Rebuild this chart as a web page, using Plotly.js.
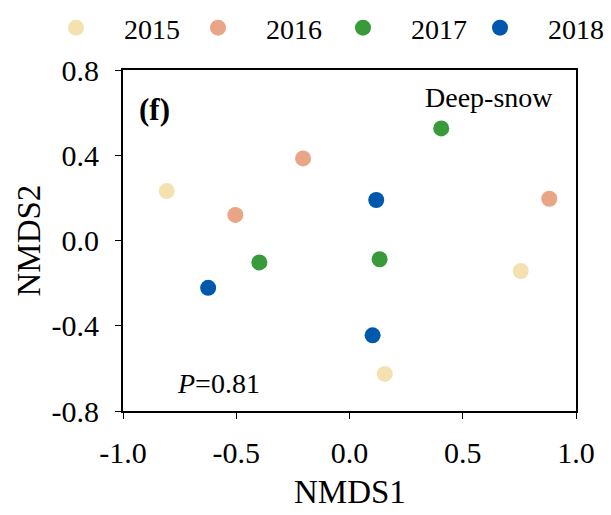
<!DOCTYPE html>
<html>
<head>
<meta charset="utf-8">
<script src="https://cdn.plot.ly/plotly-3.0.1.min.js"></script>
<style>html,body{margin:0;padding:0;background:#fff;}#chart{width:611px;height:515px;}</style>
</head>
<body>
<div id="chart"></div>
<script>
const years = ["2015", "2016", "2017", "2018"];
const colors = ["#F5E1B0", "#E9A586", "#389A38", "#0058AC"];
const x2015 = [-0.807, 0.756, 0.156];
const y2015 = [0.232, -0.143, -0.626];
const x2016 = [-0.504, -0.205, 0.882];
const y2016 = [0.120, 0.385, 0.196];
const x2017 = [-0.398, 0.133, 0.405];
const y2017 = [-0.103, -0.088, 0.526];
const x2018 = [-0.624, 0.118, 0.102];
const y2018 = [-0.222, 0.190, -0.445];
const xs = [x2015, x2016, x2017, x2018];
const ys = [y2015, y2016, y2017, y2018];
const xTicks = [-1, -0.5, 0, 0.5, 1];
const xTickText = ["-1.0", "-0.5", "0.0", "0.5", "1.0"];
const yTicks = [-0.8, -0.4, 0, 0.4, 0.8];
const yTickText = ["-0.8", "-0.4", "0.0", "0.4", "0.8"];

const font = "Liberation Serif, Times New Roman, serif";
const legendIds = ["legend", "legend2", "legend3", "legend4"];
const legendX = [56, 198, 343, 480];

const data = years.map((yr, i) => ({
  type: "scatter", mode: "markers", name: "\u00a0\u00a0\u00a0\u00a0" + yr,
  x: xs[i], y: ys[i], legend: legendIds[i],
  marker: {color: colors[i], size: 16, line: {width: 0}}
}));

const W = 611, H = 515;
const layout = {
  width: W, height: H,
  margin: {l: 123, r: 35, t: 70, b: 104, autoexpand: false},
  paper_bgcolor: "#fff", plot_bgcolor: "#fff",
  font: {family: font, color: "#000", size: 24},
  showlegend: true,
  xaxis: {range: [-1, 1], tickvals: xTicks, ticktext: xTickText,
          ticks: "outside", ticklen: 6, tickwidth: 1, tickcolor: "#000", ticklabelstandoff: 8,
          showline: true, linecolor: "#000", linewidth: 2, mirror: true,
          showgrid: false, zeroline: false,
          tickfont: {family: font, size: 30, color: "#000"}},
  yaxis: {range: [-0.8, 0.8], tickvals: yTicks, ticktext: yTickText,
          ticks: "outside", ticklen: 6, tickwidth: 1, tickcolor: "#000", ticklabelstandoff: 10,
          showline: true, linecolor: "#000", linewidth: 2, mirror: true,
          showgrid: false, zeroline: false,
          tickfont: {family: font, size: 30, color: "#000"}},
  annotations: [
    {xref: "paper", yref: "paper", x: 0.03, y: 0.885, xanchor: "left", yanchor: "middle",
     text: "<b>(f)</b>", showarrow: false, font: {family: font, size: 31, color: "#000"}},
    {xref: "paper", yref: "paper", x: 0.954, y: 0.918, xanchor: "right", yanchor: "middle",
     text: "Deep-snow", showarrow: false, font: {family: font, size: 28, color: "#000"}},
    {xref: "paper", yref: "paper", x: 0.115, y: 0.081, xanchor: "left", yanchor: "middle",
     text: "<i>P</i>=0.81", showarrow: false, font: {family: font, size: 28, color: "#000"}},
    {xref: "paper", yref: "paper", x: (350 - 123) / 453, y: -(492 - 410.7) / 340.7, xanchor: "center", yanchor: "middle",
     text: "NMDS1", showarrow: false, font: {family: font, size: 33, color: "#000"}},
    {xref: "paper", yref: "paper", x: -(123 - 28) / 453, y: 0.5, xanchor: "center", yanchor: "middle", textangle: -90,
     text: "NMDS2", showarrow: false, font: {family: font, size: 33, color: "#000"}}
  ]
};
legendIds.forEach((id, i) => {
  layout[id] = {orientation: "h", x: legendX[i] / W, xanchor: "left", xref: "container",
                y: 1 - 28 / H, yref: "container", yanchor: "middle",
                font: {family: font, size: 28, color: "#000"}, bgcolor: "rgba(0,0,0,0)",
                itemsizing: "trace"};
});
Plotly.newPlot("chart", data, layout, {displayModeBar: false, staticPlot: true});
</script>
</body>
</html>
